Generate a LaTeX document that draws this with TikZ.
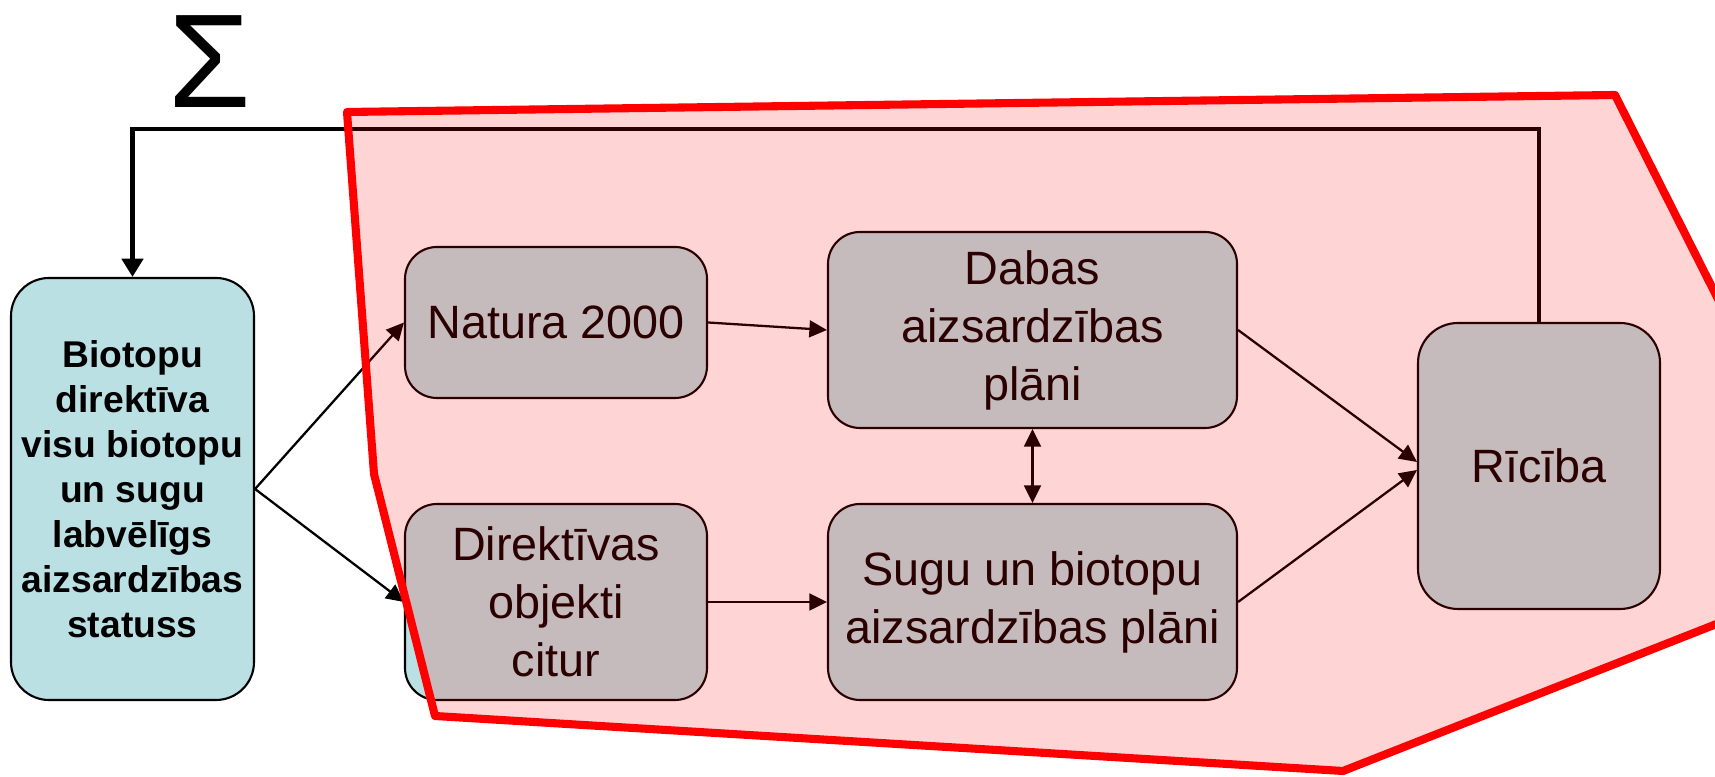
\documentclass[tikz,border=0pt]{standalone}
\usepackage{fontspec}
\setmainfont{Liberation Sans}
\usetikzlibrary{arrows.meta}

\definecolor{boxcyan}{RGB}{186,224,227}

\begin{document}
\begin{tikzpicture}[
  box/.style={draw, line width=0.6pt, fill=boxcyan, rounded corners=0.32cm,
    align=center, inner sep=0pt, font=\fontsize{13.3}{16.5}\selectfont},
  flow/.style={->, >={Triangle[length=5pt,width=4.8pt]}, line width=0.65pt},
  back/.style={->, >={Triangle[length=5.2pt,width=6pt]}, line width=1.4pt}
]
\useasboundingbox (0,0) rectangle (17.15,7.77);
\clip (0,0) rectangle (17.15,7.77);

\node[box, minimum width=2.43cm, minimum height=4.22cm, rounded corners=0.38cm,
  font=\fontsize{10.6}{12.8}\selectfont\bfseries] (biotopi) at (1.325,2.88)
  {Biotopu\\direktīva\\visu biotopu\\un sugu\\labvēlīgs\\aizsardzības\\statuss};
\node[box, minimum width=3.02cm, minimum height=1.51cm] (natura) at (5.56,4.545) {Natura 2000};
\node[box, minimum width=3.02cm, minimum height=1.96cm] (direktivas) at (5.56,1.75) {Direktīvas\\objekti\\citur};
\node[box, minimum width=4.09cm, minimum height=1.96cm] (dabas) at (10.325,4.47) {Dabas\\aizsardzības\\plāni};
\node[box, minimum width=4.09cm, minimum height=1.96cm] (sugu) at (10.325,1.75) {Sugu un biotopu\\aizsardzības plāni};
\node[box, minimum width=2.42cm, minimum height=2.86cm, rounded corners=0.4cm] (riciba) at (15.39,3.11) {Rīcība};

\node (sigma) at (2.095,7.15) {\fontsize{38}{40}\selectfont Σ};

\draw[flow] (biotopi.east) -- (natura.west);
\draw[flow] (biotopi.east) -- (direktivas.west);
\draw[flow] (natura.east) -- (dabas.west);
\draw[flow] (direktivas.east) -- (sugu.west);
\draw[flow, <->] (dabas.south) -- (sugu.north);
\draw[flow] (dabas.east) -- ([yshift=0.04cm]riciba.west);
\draw[flow] (sugu.east) -- ([yshift=-0.04cm]riciba.west);

\coordinate (top) at (8,6.48);
\draw[back] (riciba.north) |- (top) -| (biotopi.north);

% red area over the right part
\fill[red, opacity=0.17] (3.47,6.65) -- (16.15,6.82) -- (17.8,3.55) -- (17.8,1.78)
  -- (13.43,0.06) -- (4.35,0.61) -- (3.74,3.03) -- cycle;
\draw[red, line width=2.3pt, line join=round] (3.47,6.65) -- (16.15,6.82) -- (17.8,3.55) -- (17.8,1.78)
  -- (13.43,0.06) -- (4.35,0.61) -- (3.74,3.03) -- cycle;
\end{tikzpicture}
\end{document}
